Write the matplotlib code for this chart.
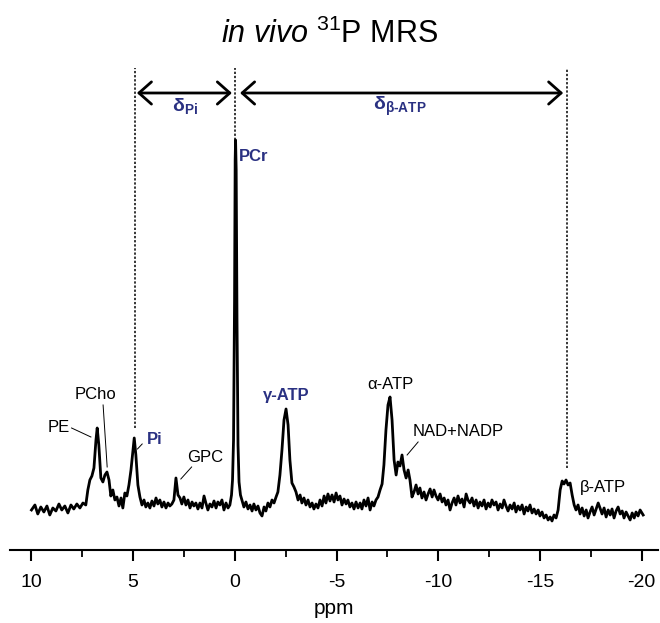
import matplotlib
matplotlib.use("Agg")
import matplotlib.pyplot as plt
from matplotlib.ticker import MultipleLocator

plt.rcParams['font.family'] = ['Liberation Sans', 'DejaVu Sans']
plt.rcParams['mathtext.fontset'] = 'custom'
plt.rcParams['mathtext.rm'] = 'Liberation Sans'
plt.rcParams['mathtext.it'] = 'Liberation Sans:italic'
plt.rcParams['mathtext.bf'] = 'Liberation Sans:bold'

# ---- spectrum (ppm, intensity in a.u.; PCr = 370) ----
ppm = [9.99, 9.82, 9.68, 9.53, 9.38, 9.23, 9.09, 8.94, 8.79, 8.64, 8.50, 8.35, 8.20, 8.05, 7.91, 7.76,
       7.61, 7.46, 7.32, 7.22, 7.12, 7.02, 6.92, 6.82, 6.76, 6.68, 6.58, 6.48, 6.38, 6.28, 6.18, 6.09,
       5.99, 5.89, 5.79, 5.69, 5.59, 5.50,
       5.40, 5.30, 5.20, 5.10, 5.00, 4.94, 4.86, 4.76, 4.66, 4.56, 4.46, 4.37, 4.27, 4.17, 4.07, 3.97,
       3.87, 3.78, 3.68, 3.58, 3.48, 3.38, 3.28, 3.19, 3.09, 2.99, 2.89, 2.79, 2.69, 2.60, 2.50, 2.40,
       2.30, 2.20, 2.10, 2.01, 1.91, 1.81, 1.71, 1.61, 1.51, 1.42, 1.32, 1.22, 1.12, 1.02, 0.92, 0.83,
       0.73, 0.63, 0.53, 0.43, 0.33,
       0.24, 0.16, 0.11, 0.06, 0.01, -0.02, -0.04, -0.07, -0.11, -0.16, -0.21, -0.28, -0.35, -0.45,
       -0.55, -0.65, -0.75, -0.85, -0.94, -1.04, -1.14, -1.24, -1.34, -1.44, -1.53, -1.63, -1.73, -1.83,
       -1.93, -2.03, -2.12, -2.22, -2.32, -2.42, -2.52, -2.62, -2.71, -2.81, -2.91, -3.01, -3.11, -3.21,
       -3.30, -3.40, -3.50, -3.60, -3.70, -3.80, -3.89, -3.99, -4.09, -4.19, -4.29, -4.39, -4.48, -4.58,
       -4.68, -4.78, -4.88, -4.98, -5.07, -5.17, -5.27, -5.37, -5.47, -5.56, -5.66, -5.76, -5.86, -5.96,
       -6.06,
       -6.16, -6.25, -6.35, -6.45, -6.55, -6.65, -6.75, -6.84, -6.94, -7.04, -7.14, -7.24, -7.33, -7.43,
       -7.53, -7.63, -7.73, -7.83, -7.93, -8.02, -8.12, -8.22, -8.32, -8.42, -8.52, -8.61, -8.71, -8.81,
       -8.91, -9.01, -9.10, -9.20, -9.30, -9.40, -9.50, -9.60, -9.70, -9.79, -9.89, -9.99, -10.09, -10.19,
       -10.29, -10.38, -10.48, -10.58, -10.68,
       -10.78, -10.87, -10.97, -11.07, -11.17, -11.27, -11.37, -11.46, -11.56, -11.66, -11.76, -11.86,
       -11.96, -12.05, -12.15, -12.25, -12.35, -12.45, -12.55, -12.64, -12.74, -12.84, -12.94, -13.04,
       -13.14, -13.23, -13.33, -13.43, -13.53, -13.63, -13.73, -13.82, -13.92, -14.02, -14.12, -14.22,
       -14.32, -14.41, -14.51, -14.61, -14.71, -14.81, -14.91, -15.00, -15.10, -15.20, -15.30, -15.40,
       -15.50, -15.59, -15.69, -15.79, -15.89,
       -15.99, -16.09, -16.18, -16.28, -16.38, -16.48, -16.58, -16.68, -16.77, -16.87, -16.97, -17.07,
       -17.17, -17.27, -17.36, -17.46, -17.56, -17.66, -17.76, -17.86, -17.95, -18.05, -18.15, -18.25,
       -18.35, -18.45, -18.54, -18.64, -18.74, -18.84, -18.94, -19.04, -19.13, -19.23, -19.33, -19.43,
       -19.53, -19.63, -19.72, -19.82, -19.92, -20.07]

intensity = [0, 5, -4, 3, -2, 4, -5, 2, -1, 6, 0, 4, -3, 5, 1, 6,
             2, 7, 5, 20, 30, 34, 42, 70, 82, 65, 32, 28, 35, 38, 30, 14,
             20, 10, 13, 4, 12, 2,
             17, 14, 25, 40, 60, 72, 55, 25, 13, 5, 10, 3, 7, 2, 9, 4,
             12, 6, 10, 3, 8, 2, 7, 4, 6, 10, 32, 15, 12, 6, 13, 5,
             10, 2, 8, 4, 7, 1, 7, 2, 14, 7, 0, 6, 3, 9, 2, 8,
             5, 10, 0, 7, 2,
             5, 15, 30, 70, 210, 350, 370, 340, 190, 65, 28, 15, 10, 3,
             8, 1, 5, -1, 6, 0, 4, -3, -6, 3, -1, 7, 3, 10,
             7, 13, 18, 35, 60, 90, 101, 85, 50, 27, 23, 18, 10, 15,
             7, 12, 5, 10, 3, 7, 1, 6, 2, 10, 4, 14, 7, 16,
             9, 15, 8, 17, 10, 14, 5, 11, 6, 10, 3, 7, 1, 8,
             2,
             7, 1, 10, 4, 12, 0, 8, 4, 10, 13, 20, 26, 45, 80,
             105, 113, 90, 50, 35, 48, 44, 55, 40, 32, 40, 30, 13, 18,
             25, 16, 22, 12, 18, 10, 16, 21, 13, 20, 14, 10, 16, 8,
             12, 5, 10, 0, 7,
             12, 5, 14, 7, 11, 3, 16, 10, 7, 12, 4, 10,
             2, 8, 4, 10, 1, 7, 3, 10, 5, 8, 0, 6,
             2, 10, 4, -1, 5, 1, 7, -2, 4, 0, 5, -4,
             3, -1, 5, -3, 1, -4, 0, -6, -2, -8, -5, -10,
             -7, -11, -5, -8, 0,
             20, 29, 26, 30, 25, 27, 15, 5, 0, 5, -4, 2,
             -6, 0, -8, -2, 3, -5, 1, 7, 2, -4, 2, -7,
             0, -5, 1, -8, -1, 3, -4, -1, -8, -2, -6, -10,
             -3, -8, -2, -6, 0, -5]

# ---- annotations ----
x_ticks = [10, 5, 0, -5, -10, -15, -20]
ref_ppm = [4.90, 0.0, -16.32]          # dotted reference lines (Pi, PCr, beta-ATP)
ref_top = [82, 370, 42]                 # intensity where each dotted line stops
blue = '#2a3182'

fig = plt.figure(figsize=(6.6, 6.23), dpi=100)
ax = fig.add_axes([0.015, 0.1172, 0.982, 0.7865])
ax.plot(ppm, intensity, color='black', lw=2.0, solid_joinstyle='round')
ax.set_xlim(11.05, -20.8)
ax.set_ylim(-40, 450)

for p, t in zip(ref_ppm, ref_top):
    ax.plot([p, p], [t, 442], color='black', lw=1.1, ls=(0, (1.5, 1.2)))

arrow_kw = dict(arrowstyle='<->,head_length=0.45,head_width=0.4', lw=2, color='black',
                shrinkA=0, shrinkB=0, mutation_scale=20)
ax.annotate('', xy=(0.14, 417), xytext=(4.81, 417), arrowprops=arrow_kw)
ax.annotate('', xy=(-16.14, 417), xytext=(-0.26, 417), arrowprops=arrow_kw)
ax.text(2.45, 404, r'$\mathbf{δ}_{\mathbf{Pi}}$', color=blue, fontsize=14, ha='center', va='center')
ax.text(-8.12, 404, r'$\mathbf{δ}_{\mathbf{β‐ATP}}$', color=blue, fontsize=14, ha='center', va='center')

# blue bold labels
ax.text(-0.22, 353, 'PCr', color=blue, fontsize=12, fontweight='bold', ha='left', va='center')
ax.text(4.31, 70, 'Pi', color=blue, fontsize=12, fontweight='bold', ha='left', va='center')
ax.text(-2.52, 114, 'γ-ATP', color=blue, fontsize=12, fontweight='bold', ha='center', va='center')

# black labels
ax.text(8.10, 82, 'PE', fontsize=12, ha='right', va='center')
ax.text(6.82, 115, 'PCho', fontsize=12, ha='center', va='center')
ax.text(1.44, 52, 'GPC', fontsize=12, ha='center', va='center')
ax.text(-7.63, 125, 'α-ATP', fontsize=12, ha='center', va='center')
ax.text(-8.76, 78, 'NAD+NADP', fontsize=12, ha='left', va='center')
ax.text(-16.97, 22, 'β-ATP', fontsize=12, ha='left', va='center')

# leader lines
leaders = [((8.02, 82), (7.07, 73)), ((6.47, 105), (6.27, 43)), ((2.12, 43), (2.65, 31)),
           ((-9.01, 68), (-8.47, 55)), ((4.55, 66), (4.78, 61))]
for (a, b) in leaders:
    ax.plot([a[0], b[0]], [a[1], b[1]], color='black', lw=0.7)

for s in ['left', 'right', 'top']:
    ax.spines[s].set_visible(False)
ax.spines['bottom'].set_linewidth(1.5)
ax.set_yticks([])
ax.set_xticks(x_ticks)
ax.set_xticklabels([str(t) for t in x_ticks])
ax.xaxis.set_minor_locator(MultipleLocator(2.5))
ax.tick_params(axis='x', which='major', direction='out', length=8, width=1.5, labelsize=14, pad=9)
ax.tick_params(axis='x', which='minor', direction='out', length=5, width=1.3)
ax.set_xlabel('ppm', fontsize=15, labelpad=6)

fig.text(0.5, 1 - 34 / 623, r'$\mathit{in\ vivo}$ $^{31}$P MRS', fontsize=22, ha='center', va='center')

fig.savefig('out.png', dpi=100)
